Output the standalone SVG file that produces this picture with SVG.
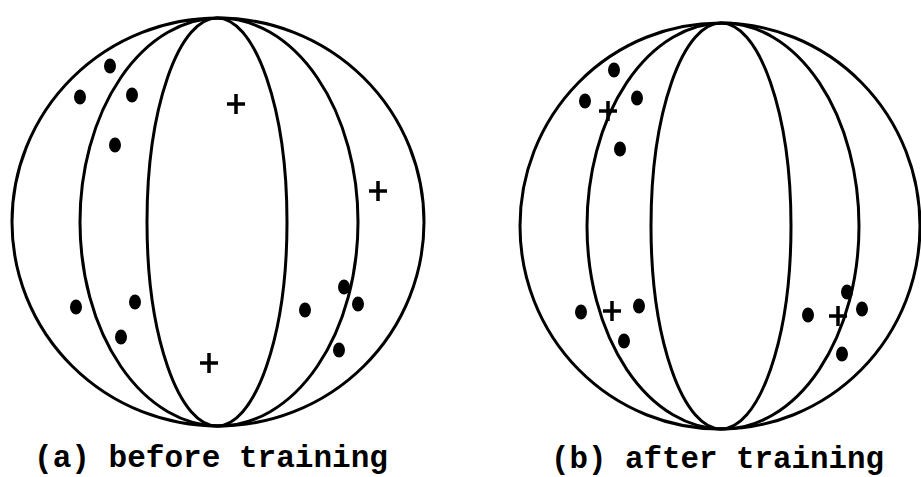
<svg xmlns="http://www.w3.org/2000/svg" width="921" height="477" viewBox="0 0 921 477">
<defs>
<style>
.ln{fill:none;stroke:#000;stroke-width:3}
.dot{fill:#000}
.pl{fill:none;stroke:#000;stroke-width:3.5}
.lbl{font-family:"Liberation Mono","Courier New",monospace;font-size:31px;font-weight:bold;fill:#000}
</style>
<g id="dotsym"><ellipse cx="0" cy="0" rx="6" ry="7.5" class="dot"/></g>
<path id="plus" d="M-9,0H9M0,-10V10" class="pl"/>
</defs>
<rect width="921" height="477" fill="#fff"/>
<g id="sphere-a">
<ellipse class="ln" cx="218" cy="222" rx="206" ry="204"/>
<ellipse class="ln" cx="219" cy="222" rx="139" ry="204"/>
<ellipse class="ln" cx="217" cy="222" rx="70" ry="204"/>
<use href="#dotsym" x="110" y="66"/>
<use href="#dotsym" x="80" y="97"/>
<use href="#dotsym" x="132" y="95"/>
<use href="#dotsym" x="115" y="145"/>
<use href="#dotsym" x="76" y="307"/>
<use href="#dotsym" x="135" y="302"/>
<use href="#dotsym" x="121" y="337"/>
<use href="#dotsym" x="305" y="310"/>
<use href="#dotsym" x="344" y="287"/>
<use href="#dotsym" x="358" y="304"/>
<use href="#dotsym" x="339" y="350"/>
<use href="#plus" x="236" y="104"/>
<use href="#plus" x="378" y="191"/>
<use href="#plus" x="209" y="363"/>
</g>
<g id="sphere-b">
<ellipse class="ln" cx="720" cy="226" rx="200" ry="203"/>
<ellipse class="ln" cx="723" cy="226" rx="136" ry="203"/>
<ellipse class="ln" cx="721" cy="226" rx="70" ry="203"/>
<use href="#dotsym" x="614" y="70"/>
<use href="#dotsym" x="585" y="101"/>
<use href="#dotsym" x="637" y="98"/>
<use href="#dotsym" x="620" y="149"/>
<use href="#dotsym" x="581" y="312"/>
<use href="#dotsym" x="639" y="306"/>
<use href="#dotsym" x="624" y="341"/>
<use href="#dotsym" x="808" y="315"/>
<use href="#dotsym" x="847" y="292"/>
<use href="#dotsym" x="862" y="309"/>
<use href="#dotsym" x="842" y="354"/>
<use href="#plus" x="608" y="111"/>
<use href="#plus" x="612" y="311"/>
<use href="#plus" x="838" y="316"/>
</g>
<g id="connectors"></g>
<text class="lbl" x="34" y="467" textLength="354" lengthAdjust="spacingAndGlyphs">(a) before training</text>
<text class="lbl" x="551" y="468" textLength="333" lengthAdjust="spacingAndGlyphs">(b) after training</text>
</svg>
